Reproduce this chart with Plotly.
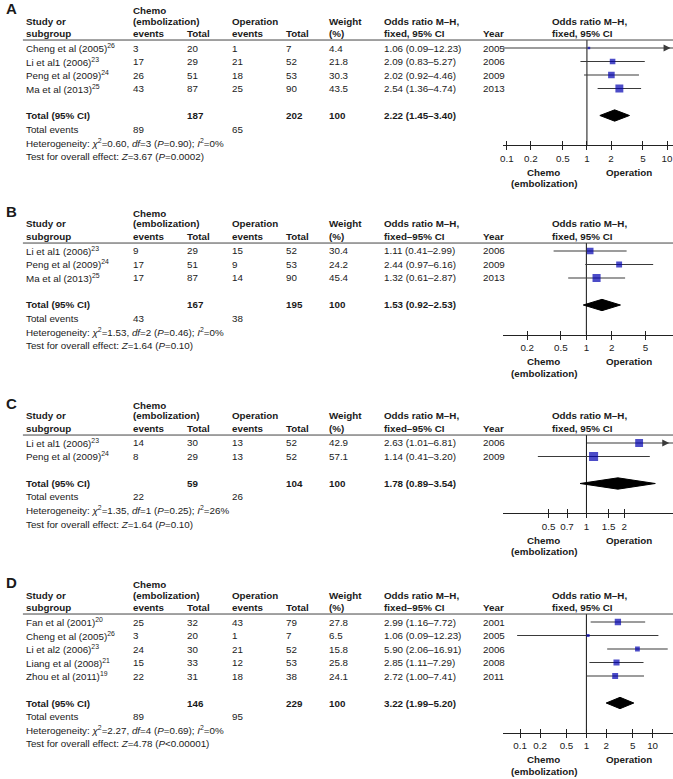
import numpy as np
import plotly.graph_objects as go

# ---------------- data ----------------
# Panel A
a_studies = ["Cheng et al (2005)<sup>26</sup>", "Li et al1 (2006)<sup>23</sup>",
             "Peng et al (2009)<sup>24</sup>", "Ma et al (2013)<sup>25</sup>"]
a_chemo_events = [3, 17, 26, 43]
a_chemo_total = [20, 29, 51, 87]
a_op_events = [1, 21, 18, 25]
a_op_total = [7, 52, 53, 90]
a_weight = [4.4, 21.8, 30.3, 43.5]
a_or = [1.06, 2.09, 2.02, 2.54]
a_lo = [0.09, 0.83, 0.92, 1.36]
a_hi = [12.23, 5.27, 4.46, 4.74]
a_year = [2005, 2006, 2009, 2013]
a_total = [187, 202]
a_total_events = [89, 65]
a_pooled = [2.22, 1.45, 3.40]
a_het = "Heterogeneity: <i>χ</i><sup>2</sup>=0.60, <i>df</i>=3 (<i>P</i>=0.90); <i>I</i><sup>2</sup>=0%"
a_test = "Test for overall effect: <i>Z</i>=3.67 (<i>P</i>=0.0002)"
a_ticks = [0.1, 0.2, 0.5, 1, 2, 5, 10]

# Panel B
b_studies = ["Li et al1 (2006)<sup>23</sup>", "Peng et al (2009)<sup>24</sup>",
             "Ma et al (2013)<sup>25</sup>"]
b_chemo_events = [9, 17, 17]
b_chemo_total = [29, 51, 87]
b_op_events = [15, 9, 14]
b_op_total = [52, 53, 90]
b_weight = [30.4, 24.2, 45.4]
b_or = [1.11, 2.44, 1.32]
b_lo = [0.41, 0.97, 0.61]
b_hi = [2.99, 6.16, 2.87]
b_year = [2006, 2009, 2013]
b_total = [167, 195]
b_total_events = [43, 38]
b_pooled = [1.53, 0.92, 2.53]
b_het = "Heterogeneity: <i>χ</i><sup>2</sup>=1.53, <i>df</i>=2 (<i>P</i>=0.46); <i>I</i><sup>2</sup>=0%"
b_test = "Test for overall effect: <i>Z</i>=1.64 (<i>P</i>=0.10)"
b_ticks = [0.2, 0.5, 1, 2, 5]

# Panel C
c_studies = ["Li et al1 (2006)<sup>23</sup>", "Peng et al (2009)<sup>24</sup>"]
c_chemo_events = [14, 8]
c_chemo_total = [30, 29]
c_op_events = [13, 13]
c_op_total = [52, 52]
c_weight = [42.9, 57.1]
c_or = [2.63, 1.14]
c_lo = [1.01, 0.41]
c_hi = [6.81, 3.20]
c_year = [2006, 2009]
c_total = [59, 104]
c_total_events = [22, 26]
c_pooled = [1.78, 0.89, 3.54]
c_het = "Heterogeneity: <i>χ</i><sup>2</sup>=1.35, <i>df</i>=1 (<i>P</i>=0.25); <i>I</i><sup>2</sup>=26%"
c_test = "Test for overall effect: <i>Z</i>=1.64 (<i>P</i>=0.10)"
c_ticks = [0.5, 0.7, 1, 1.5, 2]

# Panel D
d_studies = ["Fan et al (2001)<sup>20</sup>", "Cheng et al (2005)<sup>26</sup>",
             "Li et al2 (2006)<sup>23</sup>", "Liang et al (2008)<sup>21</sup>",
             "Zhou et al (2011)<sup>19</sup>"]
d_chemo_events = [25, 3, 24, 15, 22]
d_chemo_total = [32, 20, 30, 33, 31]
d_op_events = [43, 1, 21, 12, 18]
d_op_total = [79, 7, 52, 53, 38]
d_weight = [27.8, 6.5, 15.8, 25.8, 24.1]
d_or = [2.99, 1.06, 5.90, 2.85, 2.72]
d_lo = [1.16, 0.09, 2.06, 1.11, 1.00]
d_hi = [7.72, 12.23, 16.91, 7.29, 7.41]
d_year = [2001, 2005, 2006, 2008, 2011]
d_total = [146, 229]
d_total_events = [89, 95]
d_pooled = [3.22, 1.99, 5.20]
d_het = "Heterogeneity: <i>χ</i><sup>2</sup>=2.27, <i>df</i>=4 (<i>P</i>=0.69); <i>I</i><sup>2</sup>=0%"
d_test = "Test for overall effect: <i>Z</i>=4.78 (<i>P</i>&lt;0.00001)"
d_ticks = [0.1, 0.2, 0.5, 1, 2, 5, 10]

panels = [
    dict(letter="A", studies=a_studies, ce=a_chemo_events, ct=a_chemo_total, oe=a_op_events,
         ot=a_op_total, w=a_weight, est=a_or, lo=a_lo, hi=a_hi, year=a_year, total=a_total,
         tev=a_total_events, pooled=a_pooled, het=a_het, test=a_test, ticks=a_ticks,
         or_hdr="fixed, 95% CI", row0=48, xr=[-1.05, 1.074]),
    dict(letter="B", studies=b_studies, ce=b_chemo_events, ct=b_chemo_total, oe=b_op_events,
         ot=b_op_total, w=b_weight, est=b_or, lo=b_lo, hi=b_hi, year=b_year, total=b_total,
         tev=b_total_events, pooled=b_pooled, het=b_het, test=b_test, ticks=b_ticks,
         or_hdr="fixed–95% CI", row0=251, xr=[-0.988, 1.024]),
    dict(letter="C", studies=c_studies, ce=c_chemo_events, ct=c_chemo_total, oe=c_op_events,
         ot=c_op_total, w=c_weight, est=c_or, lo=c_lo, hi=c_hi, year=c_year, total=c_total,
         tev=c_total_events, pooled=c_pooled, het=c_het, test=c_test, ticks=c_ticks,
         or_hdr="fixed–95% CI", row0=443, xr=[-0.667, 0.690]),
    dict(letter="D", studies=d_studies, ce=d_chemo_events, ct=d_chemo_total, oe=d_op_events,
         ot=d_op_total, w=d_weight, est=d_or, lo=d_lo, hi=d_hi, year=d_year, total=d_total,
         tev=d_total_events, pooled=d_pooled, het=d_het, test=d_test, ticks=d_ticks,
         or_hdr="fixed–95% CI", row0=622, xr=[-1.263, 1.308]),
]

# ---------------- layout constants ----------------
W, H = 673, 779
ROW = 13.5          # px per table row
FX0 = 502           # left edge of forest plot (px)
TXT = "#1a1a1a"
FONT = "Liberation Sans, Arial, sans-serif"
FS = 9.8
COL = dict(study=21, ce=129, ct=183, oe=228, ot=282, w=325, orc=381, yr=480, fh=549)

fig = go.Figure()
annotations, shapes = [], []
layout_axes = {}


def ann(text, xpx, y, yref, bold=False, size=FS, xanchor="left"):
    if bold:
        text = f"<b>{text}</b>"
    annotations.append(dict(text=text, x=xpx / W, xref="paper", y=y, yref=yref,
                            xanchor=xanchor, yanchor="middle", showarrow=False,
                            font=dict(size=size, color=TXT, family=FONT)))


for k, p in enumerate(panels, start=1):
    n = len(p["studies"])
    xid = "x" if k == 1 else f"x{k}"
    yid = "y" if k == 1 else f"y{k}"
    oid = f"x{k + 4}"
    ax_row = n + 3.2
    y_top, y_bot = -3.5, n + 6.5
    top_px = p["row0"] + y_top * ROW
    bot_px = p["row0"] + y_bot * ROW
    ax_px = p["row0"] + ax_row * ROW
    rows = list(range(n))

    # axes
    xcommon = dict(type="log", range=p["xr"], domain=[FX0 / W, 1], anchor="free",
                   position=1 - ax_px / H, showgrid=False, zeroline=False,
                   tickvals=p["ticks"], ticktext=[f"{t:g}" for t in p["ticks"]],
                   tickcolor="#222", ticklen=4, tickwidth=1)
    layout_axes["xaxis" if k == 1 else f"xaxis{k}"] = dict(
        xcommon, showline=True, linecolor="#222", linewidth=1, ticks="outside",
        ticklabeloverflow="allow", tickfont=dict(size=FS, color=TXT, family=FONT))
    layout_axes[f"xaxis{k + 4}"] = dict(xcommon, overlaying=xid, showline=False,
                                        ticks="inside", showticklabels=False)
    layout_axes["yaxis" if k == 1 else f"yaxis{k}"] = dict(
        domain=[1 - bot_px / H, 1 - top_px / H], range=[y_bot, y_top], visible=False,
        anchor=xid)

    # overlay-axis helper trace (so the inside ticks get drawn)
    fig.add_trace(go.Scatter(x=[1], y=[0], mode="markers", marker=dict(opacity=0),
                             xaxis=oid, yaxis=yid, hoverinfo="skip"))

    # line of no effect
    fig.add_trace(go.Scatter(x=[1, 1], y=[-0.59, ax_row], mode="lines",
                             line=dict(color="#111", width=1), xaxis=xid, yaxis=yid,
                             hoverinfo="skip"))

    # confidence intervals
    xmax = 10 ** p["xr"][1]
    for i in rows:
        fig.add_trace(go.Scatter(x=[p["lo"][i], min(p["hi"][i], xmax)], y=[i, i], mode="lines",
                                 line=dict(color="#3a3a3a", width=1.2), xaxis=xid, yaxis=yid,
                                 hoverinfo="skip"))
        if p["hi"][i] > xmax:
            fig.add_trace(go.Scatter(x=[10 ** (p["xr"][1] - 0.03)], y=[i], mode="markers",
                                     marker=dict(symbol="arrow-right", size=7, color="#3a3a3a"),
                                     cliponaxis=False, xaxis=xid, yaxis=yid, hoverinfo="skip"))

    # study squares
    fig.add_trace(go.Scatter(x=p["est"], y=rows, mode="markers",
                             marker=dict(symbol="square", color="#0000b0",
                                         size=[1.2 * np.sqrt(v) for v in p["w"]],
                                         line=dict(width=0)),
                             xaxis=xid, yaxis=yid, hoverinfo="skip"))

    # pooled diamond
    est, lo, hi = p["pooled"]
    t, h = n + 1, 0.42
    fig.add_trace(go.Scatter(x=[lo, est, hi, est, lo], y=[t, t - h, t, t + h, t], mode="lines",
                             fill="toself", fillcolor="black", line=dict(color="black", width=1),
                             xaxis=xid, yaxis=yid, hoverinfo="skip"))

    # header rule
    shapes.append(dict(type="line", xref="paper", x0=20 / W, x1=1, yref=yid, y0=-0.59, y1=-0.59,
                       line=dict(color="#444", width=1)))

    # panel letter and headers
    ann(p["letter"], 1, -2.95, yid, bold=True, size=15)
    ann("Chemo", COL["ce"], -2.81, yid, bold=True)
    for txt, c in [("Study or", "study"), ("(embolization)", "ce"), ("Operation", "oe"),
                   ("Weight", "w"), ("Odds ratio M–H,", "orc"), ("Odds ratio M–H,", "fh")]:
        ann(txt, COL[c], -2.0, yid, bold=True)
    for txt, c in [("subgroup", "study"), ("events", "ce"), ("Total", "ct"), ("events", "oe"),
                   ("Total", "ot"), ("(%)", "w"), (p["or_hdr"], "orc"), ("Year", "yr"),
                   ("fixed, 95% CI", "fh")]:
        ann(txt, COL[c], -1.11, yid, bold=True)

    # study rows
    for i in rows:
        ann(p["studies"][i], COL["study"], i, yid)
        ann(str(p["ce"][i]), COL["ce"], i, yid)
        ann(str(p["ct"][i]), COL["ct"], i, yid)
        ann(str(p["oe"][i]), COL["oe"], i, yid)
        ann(str(p["ot"][i]), COL["ot"], i, yid)
        ann(f"{p['w'][i]:.1f}", COL["w"], i, yid)
        ann(f"{p['est'][i]:.2f} ({p['lo'][i]:.2f}–{p['hi'][i]:.2f})", COL["orc"], i, yid)
        ann(str(p["year"][i]), COL["yr"], i, yid)

    # totals
    ann("Total (95% CI)", COL["study"], n + 1, yid, bold=True)
    ann(str(p["total"][0]), COL["ct"], n + 1, yid, bold=True)
    ann(str(p["total"][1]), COL["ot"], n + 1, yid, bold=True)
    ann("100", COL["w"], n + 1, yid, bold=True)
    ann(f"{est:.2f} ({lo:.2f}–{hi:.2f})", COL["orc"], n + 1, yid, bold=True)
    ann("Total events", COL["study"], n + 2, yid)
    ann(str(p["tev"][0]), COL["ce"], n + 2, yid)
    ann(str(p["tev"][1]), COL["oe"], n + 2, yid)
    ann(p["het"], COL["study"], n + 3, yid)
    ann(p["test"], COL["study"], n + 4, yid)

    # favours labels under the axis
    ann("Chemo", 543, ax_row + 2.0, yid, bold=True, xanchor="center")
    ann("(embolization)", 543, ax_row + 2.87, yid, bold=True, xanchor="center")
    ann("Operation", 629, ax_row + 2.0, yid, bold=True, xanchor="center")

fig.update_layout(
    width=W, height=H, margin=dict(l=0, r=0, t=0, b=0),
    paper_bgcolor="white", plot_bgcolor="white", showlegend=False,
    font=dict(family=FONT, size=FS, color=TXT),
    annotations=annotations, shapes=shapes, **layout_axes,
)

# drop the browser's default 8px body margin so the figure fills the window
fig.write_html("out.html", config={"displayModeBar": False},
               post_script="document.body.style.margin='0';")
